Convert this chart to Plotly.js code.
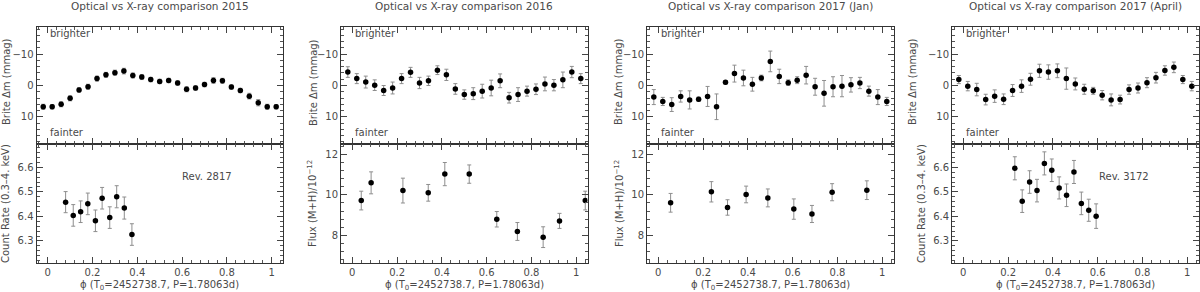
<!DOCTYPE html>
<html>
<head>
<meta charset="utf-8">
<script src="https://cdn.plot.ly/plotly-3.0.1.min.js"></script>
<style>html,body{margin:0;padding:0;background:#fff;}#chart{width:1200px;height:292px;}</style>
</head>
<body>
<div id="chart"></div>
<script>
// ---------- DATA ----------
const panelTitles = ["Optical vs X-ray comparison 2015", "Optical vs X-ray comparison 2016", "Optical vs X-ray comparison 2017 (Jan)", "Optical vs X-ray comparison 2017 (April)"];
const optPhase = [-0.02, 0.02, 0.06, 0.10, 0.14, 0.18, 0.22, 0.26, 0.30, 0.34, 0.38, 0.42, 0.46, 0.50, 0.54, 0.58, 0.62, 0.66, 0.70, 0.74, 0.78, 0.82, 0.86, 0.90, 0.94, 0.98, 1.02];

const opt2015 = [6.8, 6.8, 6.0, 4.1, 1.4, 0.4, -2.2, -3.4, -4.1, -4.6, -3.2, -2.7, -1.9, -1.3, -1.6, -0.8, 1.2, 0.8, -0.3, -1.6, -1.5, 0.5, 1.6, 3.4, 5.5, 6.8, 6.8];
const optErr2015 = [0.8, 0.7, 0.8, 0.8, 0.7, 0.8, 0.8, 0.8, 0.8, 0.9, 0.8, 0.8, 0.7, 0.7, 0.7, 0.7, 0.8, 0.7, 0.7, 0.9, 0.8, 0.7, 0.7, 0.9, 1.0, 0.8, 0.7];

const opt2016 = [-4.3, -2.2, -1.1, -0.1, 1.6, 0.8, -2.2, -4.2, -0.8, -1.5, -4.9, -3.4, 1.1, 2.9, 2.6, 1.8, 0.8, -1.5, 3.9, 2.9, 1.8, 1.2, -0.5, -0.1, -1.8, -4.3, -2.2];
const optErr2016 = [1.7, 1.6, 1.9, 1.7, 1.6, 1.9, 1.6, 1.6, 1.8, 1.5, 1.4, 1.8, 1.7, 1.5, 1.9, 2.2, 2.5, 2.2, 1.7, 2.2, 1.6, 1.7, 2.2, 1.8, 2.5, 1.8, 1.6];

const opt2017J = [3.7, 5.1, 6.1, 3.5, 4.6, 4.4, 3.5, 6.8, -1.0, -3.8, -2.4, -0.4, -2.4, -7.7, -2.9, -0.9, -1.7, -3.3, 0.4, 2.5, 0.4, 0.2, -0.2, -0.8, 1.8, 3.7, 5.1];
const optErr2017J = [2.4, 1.3, 2.2, 1.8, 2.9, 0.7, 3.2, 4.1, 0.6, 2.7, 2.5, 2.2, 0.9, 3.3, 2.3, 0.9, 1.1, 2.8, 2.7, 4.1, 3.2, 3.4, 2.3, 1.8, 1.6, 2.4, 1.3];

const opt2017A = [-1.9, 0.2, 1.3, 4.5, 3.4, 4.4, 1.6, 0.2, -2.0, -4.7, -4.3, -4.7, -2.2, -0.5, 1.2, 1.7, 3.1, 4.6, 4.5, 1.3, 0.8, -0.9, -2.5, -4.8, -5.8, -1.9, 0.2];
const optErr2017A = [1.3, 1.5, 2.0, 1.7, 2.0, 1.7, 1.9, 2.0, 1.9, 2.1, 2.3, 2.2, 3.4, 1.9, 1.6, 1.1, 1.5, 1.9, 1.4, 1.5, 1.6, 1.6, 1.7, 1.5, 1.7, 1.3, 1.5];

const xPhase2015 = [0.080, 0.114, 0.147, 0.179, 0.213, 0.243, 0.277, 0.308, 0.342, 0.376];
const xRate2015 = [6.458, 6.404, 6.419, 6.451, 6.382, 6.474, 6.395, 6.480, 6.434, 6.326];
const xRateErr2015 = [0.043, 0.044, 0.044, 0.044, 0.044, 0.044, 0.044, 0.045, 0.045, 0.044];

const xPhase2016 = [0.040, 0.084, 0.226, 0.339, 0.413, 0.522, 0.645, 0.737, 0.852, 0.925, 1.040];
const xFlux2016 = [9.72, 10.59, 10.21, 10.10, 11.02, 11.02, 8.80, 8.20, 7.92, 8.72, 9.72];
const xFluxErr2016 = [0.46, 0.54, 0.61, 0.41, 0.57, 0.45, 0.38, 0.44, 0.51, 0.37, 0.46];

const xPhase2017J = [0.055, 0.237, 0.309, 0.392, 0.489, 0.605, 0.686, 0.776, 0.931];
const xFlux2017J = [9.61, 10.15, 9.38, 10.02, 9.85, 9.30, 9.06, 10.13, 10.23];
const xFluxErr2017J = [0.46, 0.50, 0.38, 0.41, 0.44, 0.50, 0.42, 0.42, 0.46];

const xPhase2017A = [0.230, 0.263, 0.296, 0.329, 0.362, 0.395, 0.428, 0.461, 0.494, 0.527, 0.560, 0.593];
const xRate2017A = [6.596, 6.462, 6.540, 6.505, 6.616, 6.588, 6.516, 6.486, 6.581, 6.453, 6.425, 6.401];
const xRateErr2017A = [0.047, 0.046, 0.046, 0.046, 0.047, 0.046, 0.045, 0.046, 0.047, 0.046, 0.045, 0.050];

const revLabels = ["Rev. 2817", null, null, "Rev. 3172"];
const xAxisTitle = "ϕ (T<sub>0</sub>=2452738.7, P=1.78063d)";
const optYTitle = "Brite Δm (mmag)";
const rateYTitle = "Count Rate (0.3–4. keV)";
const fluxYTitle = "Flux (M+H)/10<sup>−12</sup>";

// ---------- LAYOUT ----------
const W = 1200, H = 292;
const FONT = "DejaVu Sans, sans-serif";
const TXT = "#4a4a4a";
const frames = [[36.5, 282.9], [341.1, 587.5], [647.1, 893.5], [952.1, 1198.5]];
const topPx = [27, 144], botPx = [144, 263];
const yTitleX = [[6, 5], [313, 312], [618, 619], [912, 921]];

const opt = [[opt2015, optErr2015], [opt2016, optErr2016], [opt2017J, optErr2017J], [opt2017A, optErr2017A]];
const xr = [[xPhase2015, xRate2015, xRateErr2015, 'rate'], [xPhase2016, xFlux2016, xFluxErr2016, 'flux'], [xPhase2017J, xFlux2017J, xFluxErr2017J, 'flux'], [xPhase2017A, xRate2017A, xRateErr2017A, 'rate']];

const data = [];
const layout = {
  width: W, height: H, margin: {l: 0, r: 0, t: 0, b: 0},
  paper_bgcolor: '#fff', plot_bgcolor: '#fff', showlegend: false,
  font: {family: FONT, size: 10, color: TXT},
  annotations: []
};
const px2x = p => p / W, px2y = p => 1 - p / H;

function baseAxis() {
  return {
    showgrid: false, zeroline: false, showline: true, linecolor: '#333', linewidth: 1,
    mirror: 'allticks', ticks: 'inside', ticklen: 6, tickcolor: '#444', tickwidth: 1,
    tickfont: {family: FONT, size: 10, color: TXT}, fixedrange: true
  };
}
const errStyle = {type: 'data', color: '#8e8e8e', thickness: 1, width: 2};
const mk = {color: '#000', size: 5.5};

for (let i = 0; i < 4; i++) {
  const a = 2 * i + 1, b = 2 * i + 2;
  const dom = [px2x(frames[i][0]), px2x(frames[i][1])];
  data.push({x: optPhase, y: opt[i][0], error_y: Object.assign({array: opt[i][1]}, errStyle),
    mode: 'markers', type: 'scatter', marker: mk, xaxis: 'x' + a, yaxis: 'y' + a, hoverinfo: 'skip'});
  data.push({x: xr[i][0], y: xr[i][1], error_y: Object.assign({array: xr[i][2]}, errStyle),
    mode: 'markers', type: 'scatter', marker: mk, xaxis: 'x' + b, yaxis: 'y' + b, hoverinfo: 'skip'});

  const minorX = {dtick: 0.04, ticklen: 3, ticks: 'inside', tickcolor: '#555'};
  layout['xaxis' + a] = Object.assign(baseAxis(), {domain: dom, anchor: 'y' + a, range: [-0.05, 1.05],
    showticklabels: false, dtick: 0.2, tick0: 0, minor: minorX});
  layout['yaxis' + a] = Object.assign(baseAxis(), {domain: [px2y(topPx[1]), px2y(topPx[0])], anchor: 'x' + a,
    range: [18.7, -18.7], dtick: 10, tick0: 0, minor: {dtick: 2, ticklen: 3, ticks: 'inside', tickcolor: '#555'}});
  layout['xaxis' + b] = Object.assign(baseAxis(), {domain: dom, anchor: 'y' + b, range: [-0.05, 1.05],
    dtick: 0.2, tick0: 0, minor: minorX});
  const isRate = xr[i][3] === 'rate';
  layout['yaxis' + b] = Object.assign(baseAxis(), {domain: [px2y(botPx[1]), px2y(botPx[0])], anchor: 'x' + b,
    range: isRate ? [6.21, 6.695] : [6.65, 12.5], dtick: isRate ? 0.1 : 2, tick0: 0,
    minor: {dtick: isRate ? 0.02 : 0.4, ticklen: 3, ticks: 'inside', tickcolor: '#555'}});

  const cx = (frames[i][0] + frames[i][1]) / 2;
  const A = layout.annotations;
  A.push({text: panelTitles[i], x: px2x(cx), y: px2y(6), xref: 'paper', yref: 'paper', showarrow: false,
    xanchor: 'center', yanchor: 'middle', font: {size: 10.5, color: TXT}});
  A.push({text: 'brighter', x: px2x(frames[i][0] + 11.5), y: px2y(33), xref: 'paper', yref: 'paper', showarrow: false,
    xanchor: 'left', yanchor: 'middle', font: {size: 10, color: TXT}});
  A.push({text: 'fainter', x: px2x(frames[i][0] + 11.5), y: px2y(133), xref: 'paper', yref: 'paper', showarrow: false,
    xanchor: 'left', yanchor: 'middle', font: {size: 10, color: TXT}});
  A.push({text: xAxisTitle, x: px2x(cx), y: px2y(285.7), xref: 'paper', yref: 'paper', showarrow: false,
    xanchor: 'center', yanchor: 'middle', font: {size: 10, color: TXT}});
  A.push({text: optYTitle, x: px2x(yTitleX[i][0]), y: px2y(82), xref: 'paper', yref: 'paper', showarrow: false,
    xanchor: 'center', yanchor: 'middle', textangle: -90, font: {size: 10, color: TXT}});
  A.push({text: isRate ? rateYTitle : fluxYTitle, x: px2x(yTitleX[i][1]), y: px2y(204), xref: 'paper', yref: 'paper', showarrow: false,
    xanchor: 'center', yanchor: 'middle', textangle: -90, font: {size: 10, color: TXT}});
  if (revLabels[i]) {
    A.push({text: revLabels[i], x: px2x(i === 0 ? 206.5 : 1123.7), y: px2y(176.5), xref: 'paper', yref: 'paper', showarrow: false,
      xanchor: 'center', yanchor: 'middle', font: {size: 10, color: TXT}});
  }
}

Plotly.newPlot('chart', data, layout, {displayModeBar: false, staticPlot: true});
</script>
</body>
</html>
